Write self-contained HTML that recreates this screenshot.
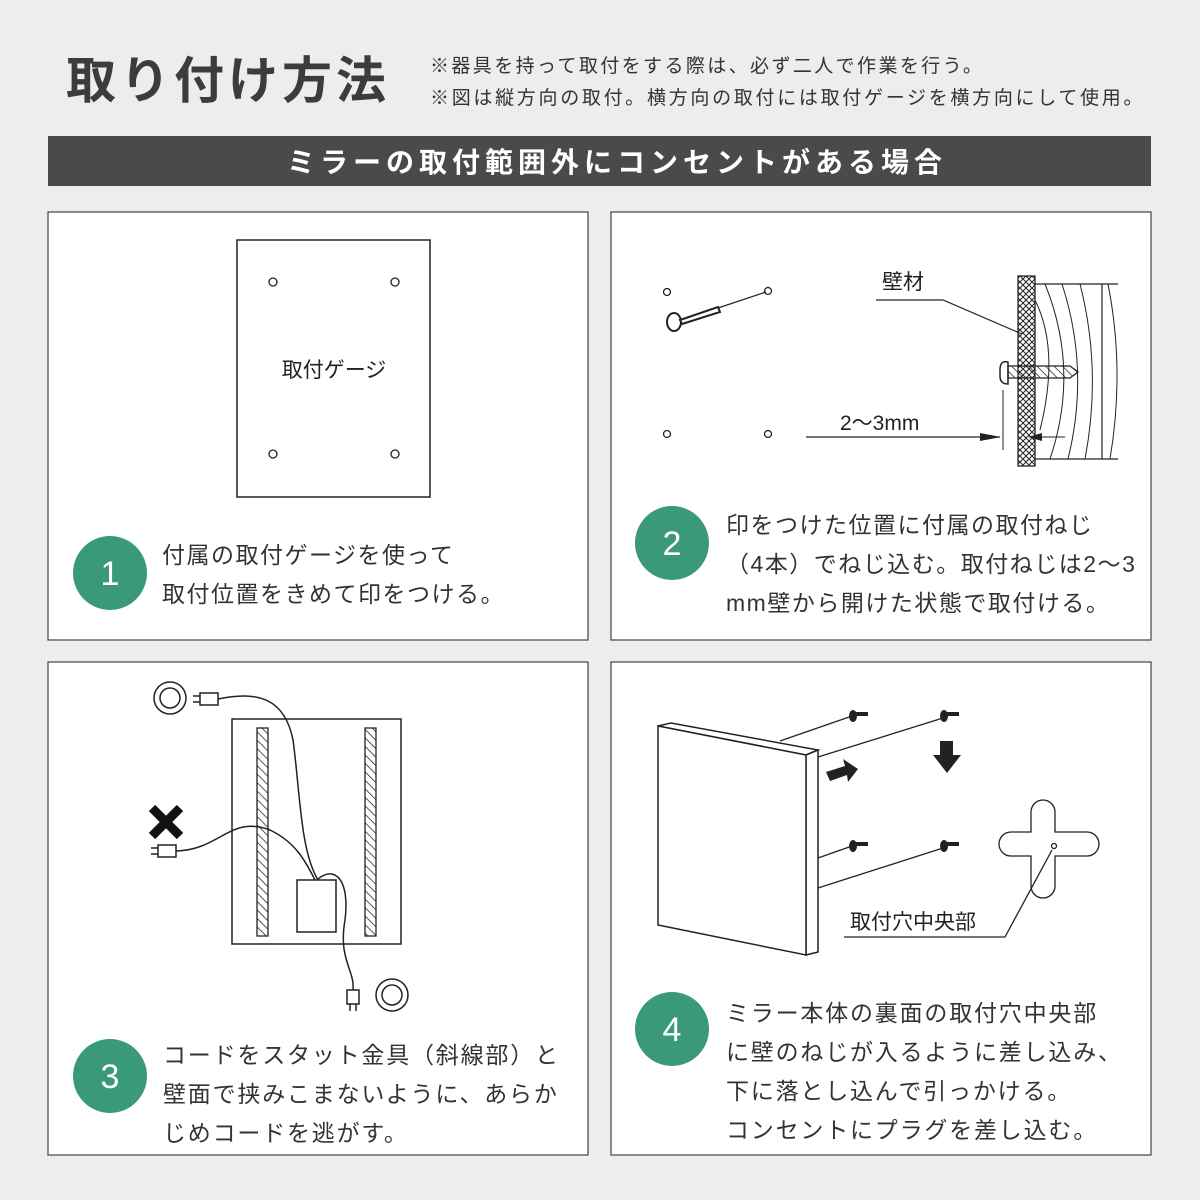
<!DOCTYPE html>
<html><head><meta charset="utf-8"><style>
html,body{margin:0;padding:0;background:#ededed}
svg{display:block}
text{font-family:"Liberation Sans","Noto Sans CJK JP",sans-serif}
</style></head><body>
<svg width="1200" height="1200" viewBox="0 0 1200 1200" xmlns="http://www.w3.org/2000/svg">
<defs>
<pattern id="hatch" width="6" height="6" patternUnits="userSpaceOnUse" patternTransform="rotate(-45)"><line x1="0" y1="0" x2="0" y2="6" stroke="#222" stroke-width="1.5"/></pattern>
<pattern id="cross" width="6" height="6" patternUnits="userSpaceOnUse"><path d="M0 0L6 6M6 0L0 6" stroke="#222" stroke-width="1"/></pattern>
</defs>
<rect width="1200" height="1200" fill="#ededed"/>
<text x="66" y="98" font-size="50" font-weight="bold" fill="#3c3c3c" letter-spacing="4">取り付け方法</text>
<text x="430" y="72" font-size="19" fill="#333" letter-spacing="2.4">※器具を持って取付をする際は、必ず二人で作業を行う。</text>
<text x="430" y="104" font-size="19" fill="#333" letter-spacing="2.7">※図は縦方向の取付。横方向の取付には取付ゲージを横方向にして使用。</text>
<rect x="48" y="136" width="1103" height="50" fill="#4a4a4a"/>
<text x="617" y="172" font-size="28" font-weight="bold" fill="#fff" text-anchor="middle" letter-spacing="5">ミラーの取付範囲外にコンセントがある場合</text>
<g fill="#fff" stroke="#444" stroke-width="1.2">
<rect x="48" y="212" width="540" height="428"/>
<rect x="611" y="212" width="540" height="428"/>
<rect x="48" y="662" width="540" height="493"/>
<rect x="611" y="662" width="540" height="493"/>
</g>
<!-- panel1 -->
<rect x="237" y="240" width="193" height="257" fill="none" stroke="#222" stroke-width="1.5"/>
<g fill="none" stroke="#222" stroke-width="1.3"><circle cx="273" cy="282" r="4"/><circle cx="395" cy="282" r="4"/><circle cx="273" cy="454" r="4"/><circle cx="395" cy="454" r="4"/></g>
<text x="334" y="377" font-size="21" fill="#222" text-anchor="middle">取付ゲージ</text>
<circle cx="110" cy="573" r="37" fill="#3a9a77"/><text x="110" y="585" font-size="34" fill="#fff" text-anchor="middle">1</text>
<text x="162" y="563" font-size="23" fill="#333" letter-spacing="1.5">付属の取付ゲージを使って</text>
<text x="162" y="602" font-size="23" fill="#333" letter-spacing="1.5">取付位置をきめて印をつける。</text>
<!-- panel2 -->
<g fill="none" stroke="#222" stroke-width="1.3"><circle cx="667" cy="292" r="3.5"/><circle cx="768" cy="291" r="3.5"/><circle cx="667" cy="434" r="3.5"/><circle cx="768" cy="434" r="3.5"/></g>
<line x1="718" y1="308" x2="766" y2="292" stroke="#222" stroke-width="1.3"/>
<ellipse cx="674" cy="322" rx="7" ry="9" fill="#fff" stroke="#222" stroke-width="2"/>
<path d="M680 320L718 307L720 312L682 324Z" fill="#fff" stroke="#222" stroke-width="2"/>
<text x="882" y="289" font-size="21" fill="#222">壁材</text>
<polyline points="876,300 943,300 1022,334" fill="none" stroke="#222" stroke-width="1.2"/>
<rect x="1018" y="276" width="17" height="190" fill="url(#cross)" stroke="#222" stroke-width="1.3"/>
<path d="M1035 284H1118M1035 459H1118M1102 284V459" fill="none" stroke="#222" stroke-width="1.2"/>
<g fill="none" stroke="#222" stroke-width="1"><path d="M1035 300Q1060 350 1040 430"/><path d="M1045 284Q1080 370 1050 459"/><path d="M1062 284Q1090 370 1068 459"/><path d="M1080 284Q1102 370 1085 459"/><path d="M1108 284Q1125 370 1110 459"/></g>
<path d="M1000 370Q1000 360 1008 362V384Q1000 384 1000 376Z" fill="#fff" stroke="#222" stroke-width="1.5"/>
<path d="M1008 366H1070L1078 372L1070 378H1008Z" fill="url(#hatch)" stroke="#222" stroke-width="1.3"/>
<line x1="1003" y1="390" x2="1003" y2="450" stroke="#222" stroke-width="1"/>
<line x1="806" y1="437" x2="1000" y2="437" stroke="#222" stroke-width="1.3"/>
<path d="M980 433L1001 437L980 441Z" fill="#222"/>
<path d="M1042 433L1028 437L1042 441Z" fill="#222"/><line x1="1030" y1="437" x2="1065" y2="437" stroke="#222"/>
<text x="840" y="430" font-size="21" fill="#222">2〜3mm</text>
<circle cx="672" cy="543" r="37" fill="#3a9a77"/><text x="672" y="555" font-size="34" fill="#fff" text-anchor="middle">2</text>
<text x="726" y="533" font-size="23" fill="#333" letter-spacing="1.5">印をつけた位置に付属の取付ねじ</text>
<text x="726" y="572" font-size="23" fill="#333" letter-spacing="1.5">（4本）でねじ込む。取付ねじは2〜3</text>
<text x="726" y="611" font-size="23" fill="#333" letter-spacing="1.5">mm壁から開けた状態で取付ける。</text>
<!-- panel3 -->
<g fill="none" stroke="#222" stroke-width="1.5">
<circle cx="170" cy="698" r="16"/><circle cx="170" cy="698" r="10"/>
<circle cx="392" cy="995" r="16"/><circle cx="392" cy="995" r="10"/>
<rect x="232" y="719" width="169" height="225"/>
<rect x="297" y="880" width="39" height="52"/>
<path d="M218 699C260 690 285 700 293 740C300 790 300 850 318 880"/>
<path d="M176 851C220 850 230 815 270 830C295 842 305 860 315 880"/>
<path d="M318 879C335 865 350 880 345 920C338 960 355 970 353 990"/>
<path d="M200 693h18v12h-18z M193 696h7M193 702h7"/>
<path d="M158 845h18v12h-18zM151 848h7M151 854h7"/>
<path d="M347 990h12v14h-12zM350 1004v7M356 1004v7"/>
</g>
<rect x="257" y="728" width="11" height="208" fill="url(#hatch)" stroke="#222" stroke-width="1.3"/>
<rect x="365" y="728" width="11" height="208" fill="url(#hatch)" stroke="#222" stroke-width="1.3"/>
<path d="M152 808L180 836M180 808L152 836" stroke="#111" stroke-width="9"/>
<circle cx="110" cy="1076" r="37" fill="#3a9a77"/><text x="110" y="1088" font-size="34" fill="#fff" text-anchor="middle">3</text>
<text x="163" y="1063" font-size="23" fill="#333" letter-spacing="1.8">コードをスタット金具（斜線部）と</text>
<text x="163" y="1102" font-size="23" fill="#333" letter-spacing="1.8">壁面で挟みこまないように、あらか</text>
<text x="163" y="1141" font-size="23" fill="#333" letter-spacing="1.8">じめコードを逃がす。</text>
<!-- panel4 -->
<g fill="#fff" stroke="#222" stroke-width="1.5">
<path d="M658 726L671 723L818 750L806 755Z"/>
<path d="M806 755L818 750L818 952L806 955Z"/>
<path d="M658 726L806 755L806 955L658 925Z"/>
</g>
<g stroke="#222" stroke-width="1.3" fill="none">
<line x1="780" y1="741" x2="852" y2="716"/><line x1="818" y1="757" x2="943" y2="718"/>
<line x1="818" y1="858" x2="852" y2="846"/><line x1="818" y1="888" x2="943" y2="848"/>
<path d="M1045 800a12 12 0 0 1 12 12v20h32a12 12 0 0 1 0 24h-32v30a12 12 0 0 1-24 0v-30h-20a12 12 0 0 1 0-24h20v-20a12 12 0 0 1 12-12z" transform="translate(-2,0)"/>
<circle cx="1054" cy="846" r="2.5"/>
<polyline points="844,937 1005,937 1052,850"/>
</g>
<g fill="#222"><ellipse cx="853" cy="716" rx="4" ry="6"/><ellipse cx="944" cy="716" rx="4" ry="6"/><ellipse cx="853" cy="846" rx="4" ry="6"/><ellipse cx="944" cy="846" rx="4" ry="6"/>
<rect x="856" y="712" width="12" height="4"/><rect x="947" y="712" width="12" height="4"/><rect x="856" y="842" width="12" height="4"/><rect x="947" y="842" width="12" height="4"/>
<path d="M826 772L845 766L843 759L858 769L848 782L847 775L830 781Z"/>
<path d="M940 741h13v14h8l-14 18l-14-18h7z"/></g>
<text x="850" y="929" font-size="21" fill="#222">取付穴中央部</text>
<circle cx="672" cy="1029" r="37" fill="#3a9a77"/><text x="672" y="1041" font-size="34" fill="#fff" text-anchor="middle">4</text>
<text x="726" y="1021" font-size="23" fill="#333" letter-spacing="1.8">ミラー本体の裏面の取付穴中央部</text>
<text x="726" y="1060" font-size="23" fill="#333" letter-spacing="1.8">に壁のねじが入るように差し込み、</text>
<text x="726" y="1099" font-size="23" fill="#333" letter-spacing="1.8">下に落とし込んで引っかける。</text>
<text x="726" y="1138" font-size="23" fill="#333" letter-spacing="1.8">コンセントにプラグを差し込む。</text>
</svg>
</body></html>
